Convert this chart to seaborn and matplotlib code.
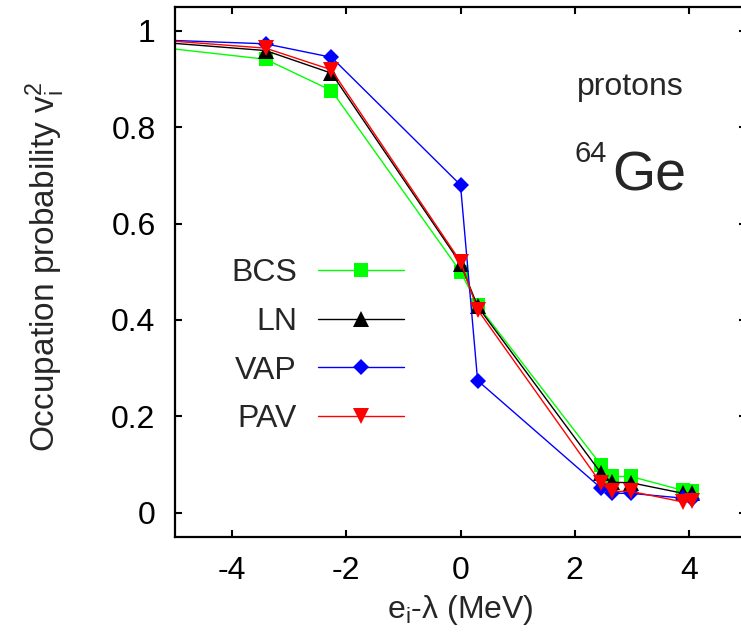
import matplotlib
matplotlib.use("Agg")
import matplotlib.pyplot as plt
import seaborn as sns
import pandas as pd

# single-particle energies relative to the Fermi level (MeV)
energy = [-6.2, -3.415, -2.26, 0.0, 0.30, 2.46, 2.645, 2.985, 3.90, 4.06]

# occupation probabilities v_i^2 for each pairing treatment
bcs = [0.978, 0.941, 0.876, 0.500, 0.431, 0.099, 0.075, 0.075, 0.046, 0.045]
ln = [0.985, 0.959, 0.912, 0.517, 0.428, 0.082, 0.063, 0.062, 0.040, 0.040]
vap = [0.985, 0.973, 0.945, 0.680, 0.274, 0.051, 0.040, 0.040, 0.030, 0.028]
pav = [0.989, 0.964, 0.919, 0.521, 0.421, 0.061, 0.044, 0.044, 0.022, 0.024]

methods = ["BCS", "LN", "VAP", "PAV"]
colors = ["#00ff00", "#000000", "#0000ff", "#ff0000"]
markers = ["s", "^", "D", "v"]
msizes = [10, 11, 8.5, 11]

x_ticks = [-4, -2, 0, 2, 4]
y_ticks = [0, 0.2, 0.4, 0.6, 0.8, 1]

sns.set_style("ticks")
plt.rcParams["font.family"] = ["Liberation Sans", "DejaVu Sans"]
plt.rcParams["mathtext.fontset"] = "custom"
plt.rcParams["mathtext.rm"] = "Liberation Sans"
plt.rcParams["mathtext.it"] = "Liberation Sans:italic"
plt.rcParams["axes.unicode_minus"] = False

FS = 23

fig = plt.figure(figsize=(7.41, 6.4), dpi=100)
ax = fig.add_axes([175 / 741, 1 - 536.7 / 640, 571 / 741, 530 / 640])

for name, vals, c, m, ms in zip(methods, [bcs, ln, vap, pav], colors, markers, msizes):
    df = pd.DataFrame({"e": energy, "v2": vals})
    sns.lineplot(data=df, x="e", y="v2", ax=ax, color=c, marker=m,
                 markersize=ms, markeredgewidth=0, linewidth=1.0,
                 label=name, sort=True, estimator=None)

ax.set_xlim(-5, 5)
ax.set_ylim(-0.05, 1.05)
ax.set_xticks(x_ticks)
ax.set_xticklabels([str(t) for t in x_ticks])
ax.set_yticks(y_ticks)
ax.set_yticklabels(["0", "0.2", "0.4", "0.6", "0.8", "1"])

for s in ax.spines.values():
    s.set_linewidth(1.6)
    s.set_color("black")

ax.tick_params(axis="both", direction="in", length=5, width=1.5,
               top=True, right=True, labelsize=FS, colors="black")
ax.tick_params(axis="x", pad=14)
ax.tick_params(axis="y", pad=14)

ax.set_xlabel("e$_\\mathrm{i}$-λ (MeV)", fontsize=FS)
ax.set_ylabel("Occupation probability v$_\\mathrm{i}^\\mathrm{2}$", fontsize=24)
ax.xaxis.set_label_coords(0.5, -0.107)
ax.yaxis.set_label_coords(-0.19, 0.51)

ax.text(0.704, 0.833, "protons", transform=ax.transAxes, fontsize=FS,
        ha="left", va="baseline")
ax.text(0.700, 0.707, "64", transform=ax.transAxes, fontsize=21,
        ha="left", va="baseline")
ax.text(0.765, 0.654, "Ge", transform=ax.transAxes, fontsize=40,
        ha="left", va="baseline")

leg = ax.legend(markerfirst=False, frameon=False, loc="upper right",
                bbox_to_anchor=(0.401, 0.525), borderpad=0, borderaxespad=0,
                fontsize=FS, handlelength=2.7, handletextpad=0.65,
                labelspacing=0.58)

fig.savefig("out.png", dpi=100)
